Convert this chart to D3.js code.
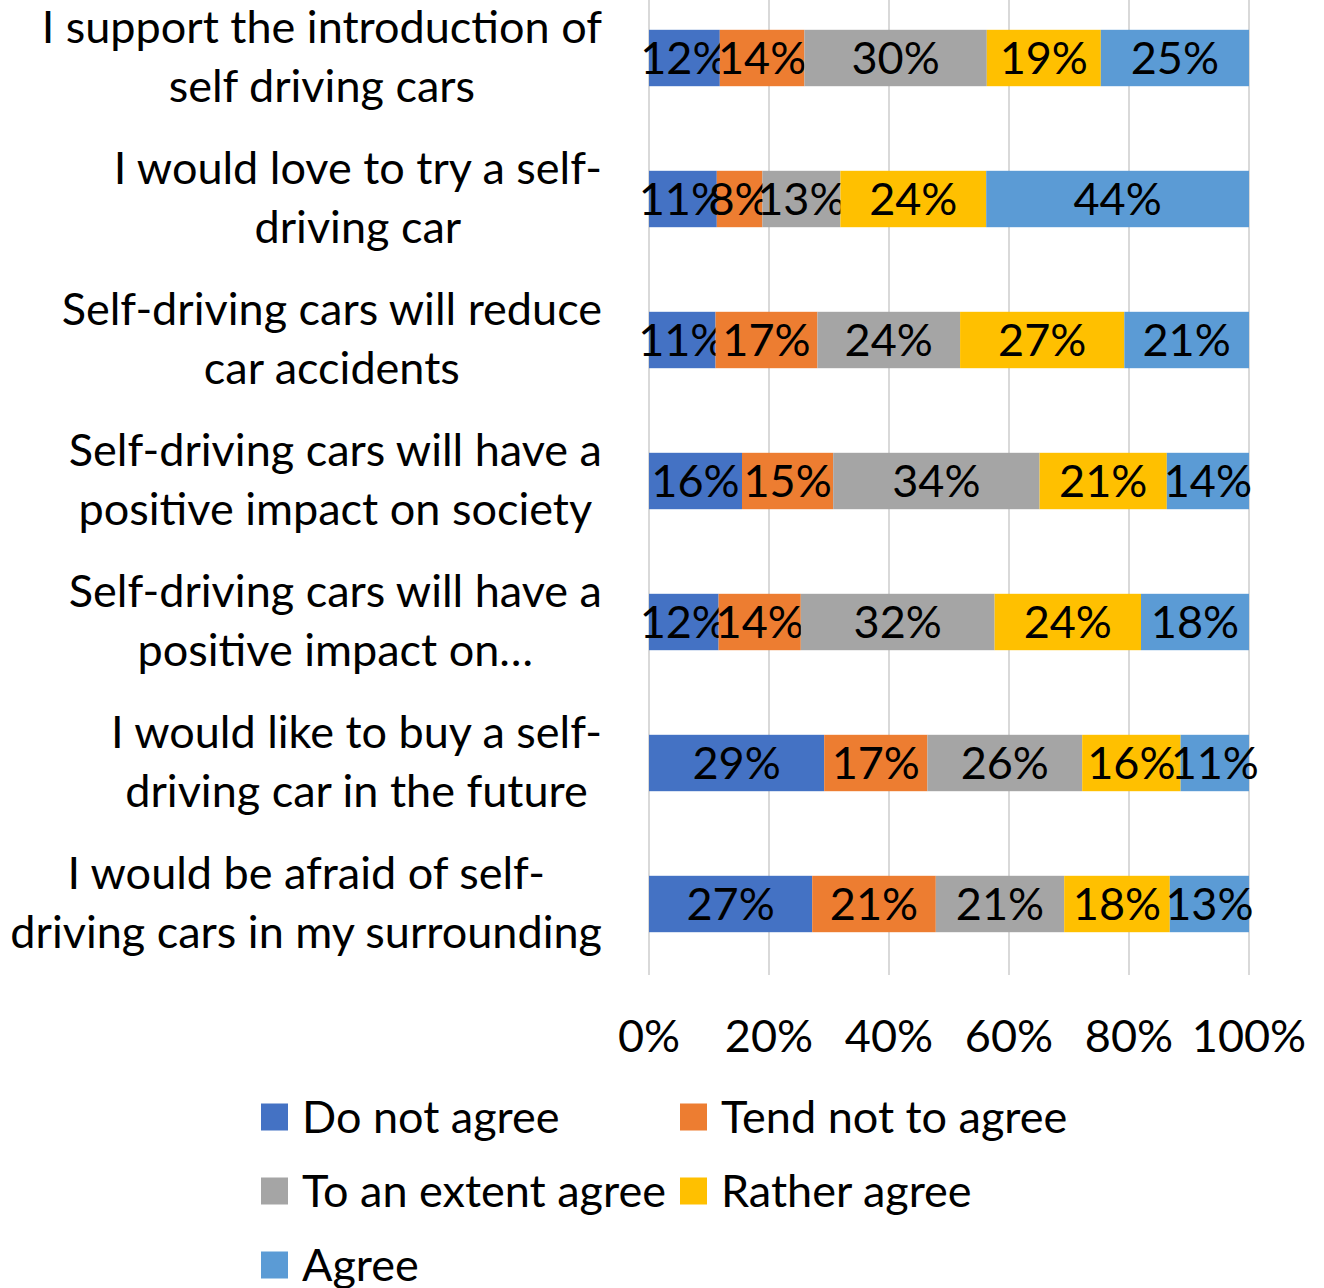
<!DOCTYPE html>
<html>
<head>
<meta charset="utf-8">
<script src="https://cdn.jsdelivr.net/npm/d3@7"></script>
<style>
  body { margin: 0; background: #fff; }
  svg text { font-family: Lato, "Open Sans", sans-serif; fill: #000; }
</style>
</head>
<body>
<svg width="1324" height="1288"></svg>
<script>
// statements, each split over two lines as in the original
var statements = [
    ["I support the introduction of", "self driving cars"],
    ["I would love to try a self-", "driving car"],
    ["Self-driving cars will reduce", "car accidents"],
    ["Self-driving cars will have a", "positive impact on society"],
    ["Self-driving cars will have a", "positive impact on\u2026"],
    ["I would like to buy a self-", "driving car in the future"],
    ["I would be afraid of self-", "driving cars in my surrounding"]
];

var answers = ["Do not agree", "Tend not to agree", "To an extent agree", "Rather agree", "Agree"];

// shares per statement, in the order of answers
var doNotAgree = [11.8, 11.3, 11.1, 15.5, 11.6, 29.2, 27.2];
var tendNot    = [14.1, 7.6, 17.0, 15.2, 13.7, 17.2, 20.6];
var extent     = [30.4, 13.0, 23.8, 34.4, 32.3, 25.8, 21.4];
var rather     = [19.0, 24.3, 27.4, 21.2, 24.4, 16.4, 17.6];
var agree      = [24.7, 43.8, 20.8, 13.7, 18.0, 11.4, 13.2];

var xTicks = [0, 0.2, 0.4, 0.6, 0.8, 1];

var colors = ["#4472C4", "#ED7D31", "#A5A5A5", "#FFC000", "#5B9BD5"];

var series = [doNotAgree, tendNot, extent, rather, agree];
var rows = statements.map(function (s, i) {
    var r = { key: i };
    answers.forEach(function (a, j) { r[a] = series[j][i]; });
    return r;
});

var svg = d3.select("svg");
var fontSize = 45;

var x = d3.scaleLinear().domain([0, 1]).range([649, 1249]);
var y = d3.scaleBand().domain(d3.range(statements.length))
    .range([-12.5, 974.5]).paddingInner(0.6).paddingOuter(0.3);
var color = d3.scaleOrdinal().domain(answers).range(colors);

var stack = d3.stack().keys(answers).offset(d3.stackOffsetExpand);
var layers = stack(rows);

// gridlines
svg.append("g").selectAll("line")
    .data(xTicks)
    .enter().append("line")
    .attr("x1", function (d) { return x(d); })
    .attr("x2", function (d) { return x(d); })
    .attr("y1", 0)
    .attr("y2", 975)
    .attr("stroke", "#D9D9D9")
    .attr("stroke-width", 2);

// axis tick labels
svg.append("g").selectAll("text")
    .data(xTicks)
    .enter().append("text")
    .attr("x", function (d) { return x(d); })
    .attr("y", 1052)
    .attr("text-anchor", "middle")
    .style("font-size", fontSize + "px")
    .text(d3.format(".0%"));

// bars
var layer = svg.append("g").selectAll("g")
    .data(layers)
    .enter().append("g")
    .attr("fill", function (d) { return color(d.key); });

layer.selectAll("rect")
    .data(function (d) { return d; })
    .enter().append("rect")
    .attr("x", function (d) { return x(d[0]); })
    .attr("width", function (d) { return x(d[1]) - x(d[0]); })
    .attr("y", function (d) { return y(d.data.key); })
    .attr("height", y.bandwidth());

// value labels
layer.selectAll("text")
    .data(function (d) { return d.map(function (p) { p.name = d.key; return p; }); })
    .enter().append("text")
    .attr("x", function (d) { return (x(d[0]) + x(d[1])) / 2; })
    .attr("y", function (d) { return y(d.data.key) + y.bandwidth() / 2 + 16; })
    .attr("text-anchor", "middle")
    .style("font-size", fontSize + "px")
    .text(function (d) { return Math.round(d.data[d.name]) + "%"; });

// category labels: lines centred inside a block that is right aligned
var labels = svg.append("g").selectAll("text")
    .data(statements)
    .enter().append("text")
    .attr("text-anchor", "middle")
    .style("font-size", fontSize + "px");

labels.each(function (lines, i) {
    var t = d3.select(this);
    var cy = y(i) + y.bandwidth() / 2;
    t.selectAll("tspan")
        .data(lines)
        .enter().append("tspan")
        .attr("y", function (d, k) { return cy + (k === 0 ? -15 : 44); })
        .text(function (d) { return d; });
    var w = 0;
    t.selectAll("tspan").each(function () { w = Math.max(w, this.getComputedTextLength()); });
    t.selectAll("tspan").attr("x", 602 - w / 2);
});

// legend
var legendPos = [[261, 1117], [680, 1117], [261, 1191], [680, 1191], [261, 1265]];
var legend = svg.append("g").selectAll("g")
    .data(answers)
    .enter().append("g")
    .attr("transform", function (d, i) { return "translate(" + legendPos[i][0] + "," + legendPos[i][1] + ")"; });

legend.append("rect")
    .attr("x", 0)
    .attr("y", -13.5)
    .attr("width", 27)
    .attr("height", 27)
    .attr("fill", function (d) { return color(d); });

legend.append("text")
    .attr("x", 41)
    .attr("y", 16)
    .style("font-size", fontSize + "px")
    .text(function (d) { return d; });
</script>
</body>
</html>
